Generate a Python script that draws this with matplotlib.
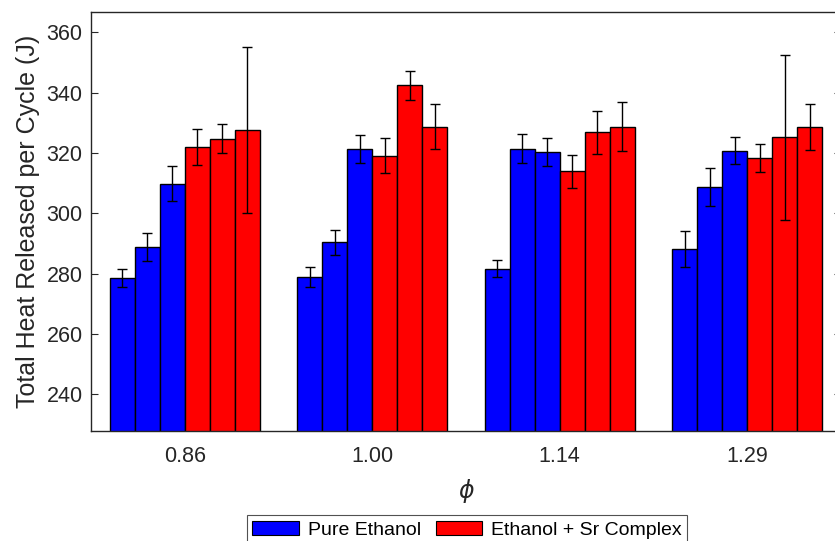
import matplotlib
matplotlib.use("Agg")
import matplotlib.pyplot as plt
from matplotlib.patches import Patch
import numpy as np

plt.rcParams['font.family'] = ['Liberation Sans', 'DejaVu Sans']

phi_labels = ["0.86", "1.00", "1.14", "1.29"]

# three bars per group for each fuel
pure_ethanol = [
    [278.5, 288.8, 309.8],
    [278.9, 290.3, 321.4],
    [281.6, 321.4, 320.3],
    [288.2, 308.7, 320.7],
]
pure_ethanol_err = [
    [3.1, 4.7, 5.8],
    [3.3, 4.0, 4.6],
    [2.8, 4.9, 4.6],
    [5.9, 6.2, 4.4],
]
sr_complex = [
    [321.9, 324.7, 327.6],
    [319.0, 342.4, 328.7],
    [313.9, 326.8, 328.7],
    [318.3, 325.1, 328.7],
]
sr_complex_err = [
    [5.9, 4.8, 27.5],
    [5.8, 4.8, 7.4],
    [5.4, 7.2, 8.0],
    [4.6, 27.4, 7.6],
]

legend_labels = ["Pure Ethanol", "Ethanol + Sr Complex"]
colors = ["#0000ff", "#ff0000"]

fig = plt.figure(figsize=(8.35, 5.41), dpi=100)
# axes in pixels: left 91, right 841, top 11.7, bottom 431
W, H = 835, 541
ax = fig.add_axes([91 / W, 1 - 431 / H, (841 - 91) / W, (431 - 11.7) / H])

x = np.arange(1, len(phi_labels) + 1)
nb = 6
bw = 0.8 / nb
vals = np.hstack([np.array(pure_ethanol), np.array(sr_complex)])
errs = np.hstack([np.array(pure_ethanol_err), np.array(sr_complex_err)])
for i in range(nb):
    offs = (i - (nb - 1) / 2) * bw
    c = colors[0] if i < 3 else colors[1]
    ax.bar(x + offs, vals[:, i], width=bw, color=c, edgecolor="black",
           linewidth=1.0, zorder=2)
    ax.errorbar(x + offs, vals[:, i], yerr=errs[:, i], fmt="none",
                ecolor="black", elinewidth=1.0, capsize=3.6, capthick=1.0,
                zorder=3)

ax.set_xlim(0.5, 4.5)
ax.set_ylim(227.8, 366.8)
ax.set_xticks(x)
ax.set_xticklabels(phi_labels)
ax.set_yticks(np.arange(240, 361, 20))
ax.tick_params(axis="both", direction="in", labelsize=15.5, colors="#262626",
               length=5, width=0.8, right=True, top=False, bottom=False)
ax.tick_params(axis="x", pad=11)
ax.tick_params(axis="y", pad=6)
for s in ax.spines.values():
    s.set_color("#262626")
    s.set_linewidth(1.0)

ax.set_ylabel("Total Heat Released per Cycle (J)", fontsize=18, color="#262626",
              labelpad=5)
ax.set_xlabel(r"$\phi$", fontsize=17, color="#262626", labelpad=7)

handles = [Patch(facecolor=colors[0], edgecolor="black", linewidth=0.8),
           Patch(facecolor=colors[1], edgecolor="black", linewidth=0.8)]
leg = fig.legend(handles, legend_labels, loc="upper center", ncol=2,
                 bbox_to_anchor=(467 / W, 1 - 515 / H), fontsize=14,
                 frameon=True, fancybox=False, edgecolor="#262626",
                 handlelength=2.4, handleheight=0.75, columnspacing=0.75,
                 handletextpad=0.45, borderpad=0.3, borderaxespad=0)
leg.get_frame().set_linewidth(0.8)

fig.savefig("out.png", dpi=100)
